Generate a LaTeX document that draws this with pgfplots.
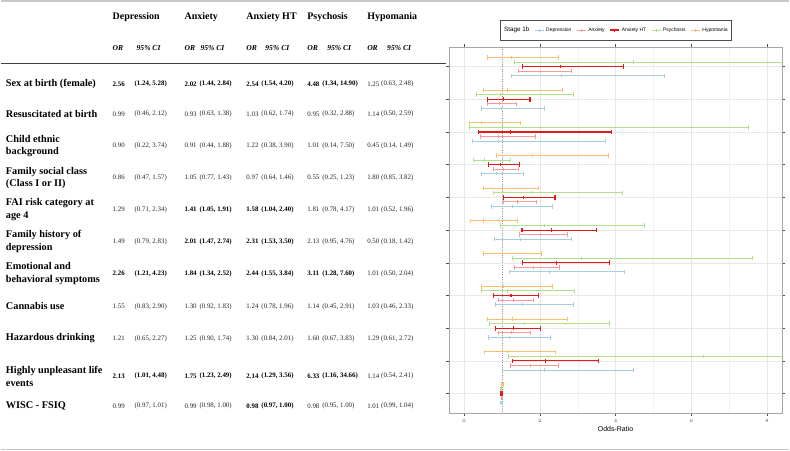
\documentclass[border=0pt]{standalone}
\usepackage{pgfplots}
\usepackage{pgfplotstable}
\pgfplotsset{compat=1.18}
\usepackage{fontspec}
\setmainfont{Liberation Serif}
\newfontfamily\sans{Liberation Sans}
\definecolor{cDep}{HTML}{A6CEE3}
\definecolor{cAnx}{HTML}{FB9A99}
\definecolor{cAHT}{HTML}{E31A1C}
\definecolor{cPsy}{HTML}{B2DF8A}
\definecolor{cHyp}{HTML}{FDBF6F}

\pgfplotstableread{
row or lo hi
1 2.56 1.24 5.28
2 0.99 0.46 2.12
3 0.90 0.22 3.74
4 0.86 0.47 1.57
5 1.29 0.71 2.34
6 1.49 0.79 2.83
7 2.26 1.21 4.23
8 1.55 0.83 2.90
9 1.21 0.65 2.27
10 2.13 1.01 4.48
11 0.99 0.97 1.01
}\depdata
\pgfplotstableread{
row or lo hi
1 2.02 1.44 2.84
2 0.93 0.63 1.38
3 0.91 0.44 1.88
4 1.05 0.77 1.43
5 1.41 1.05 1.91
6 2.01 1.47 2.74
7 1.84 1.34 2.52
8 1.30 0.92 1.83
9 1.25 0.90 1.74
10 1.75 1.23 2.49
11 0.99 0.98 1.00
}\anxdata
\pgfplotstableread{
row or lo hi
1 2.54 1.54 4.20
2 1.03 0.62 1.74
3 1.22 0.38 3.90
4 0.97 0.64 1.46
5 1.58 1.04 2.40
6 2.31 1.53 3.50
7 2.44 1.55 3.84
8 1.24 0.78 1.96
9 1.30 0.84 2.01
10 2.14 1.29 3.56
11 0.98 0.97 1.00
}\ahtdata
\pgfplotstableread{
row or lo hi
1 4.48 1.34 14.90
2 0.95 0.32 2.88
3 1.01 0.14 7.50
4 0.55 0.25 1.23
5 1.81 0.78 4.17
6 2.13 0.95 4.76
7 3.11 1.28 7.60
8 1.14 0.45 2.91
9 1.60 0.67 3.83
10 6.33 1.16 34.66
11 0.98 0.95 1.00
}\psydata
\pgfplotstableread{
row or lo hi
1 1.25 0.63 2.48
2 1.14 0.50 2.59
3 0.45 0.14 1.49
4 1.80 0.85 3.82
5 1.01 0.52 1.96
6 0.50 0.18 1.42
7 1.01 0.50 2.04
8 1.03 0.46 2.33
9 1.29 0.61 2.72
10 1.14 0.54 2.41
11 1.01 0.99 1.04
}\hypdata

\newcommand{\lab}[2]{\node[anchor=west,inner sep=0pt,align=left,font=\fontsize{10.3}{12.3}\selectfont\bfseries] at (5,#1) {#2};}
\newcommand{\nm}[3]{\node[anchor=west,inner sep=0pt,text=black!85,font=\fontsize{6.9}{7.5}\selectfont] at (#1,#2) {#3};}
\newcommand{\pr}[5]{\nm{#1}{#3}{#4}\nm{#2}{#3}{#5}}
\newcommand{\bpr}[5]{\nm{#1}{#3}{\bfseries\color{black} #4}\nm{#2}{#3}{\bfseries\color{black} #5}}
% column positions
\def\oA{112}\def\cA{134}
\def\oB{184}\def\cB{199}
\def\oC{246}\def\cC{261}
\def\oD{307}\def\cD{322}
\def\oE{367}\def\cE{381}

\begin{document}
\begin{tikzpicture}
\begin{scope}[x=1pt,y=-1pt]
\path (0,0) rectangle (790,451);
\draw[black!22, line width=1.5pt] (0,0.75) -- (790,0.75);
\draw[black!22, line width=1.5pt] (0,450.25) -- (790,450.25);
\draw[black!75, line width=0.8pt] (0,64) -- (446,64);
% headers
\foreach \x/\t in {\oA/Depression,\oB/Anxiety,\oC/Anxiety HT,\oD/Psychosis,\oE/Hypomania}
  \node[anchor=west,inner sep=0pt,font=\fontsize{10}{11}\selectfont\bfseries] at (\x,17) {\t};
\foreach \x/\c in {\oA/136,\oB/200,\oC/265,\oD/327,\oE/387}{
  \node[anchor=west,inner sep=0pt,font=\fontsize{7.6}{8.5}\selectfont\bfseries\itshape] at (\x,48) {OR};
  \node[anchor=west,inner sep=0pt,font=\fontsize{7.6}{8.5}\selectfont\bfseries\itshape] at (\c,48) {95\% CI};
}
% rows
\def\y{84}
\lab{\y}{Sex at birth (female)}
\bpr{\oA}{\cA}{\y}{2.56}{(1.24, 5.28)}
\bpr{\oB}{\cB}{\y}{2.02}{(1.44, 2.84)}
\bpr{\oC}{\cC}{\y}{2.54}{(1.54, 4.20)}
\bpr{\oD}{\cD}{\y}{4.48}{(1.34, 14.90)}
\pr{\oE}{\cE}{\y}{1.25}{(0.63, 2.48)}

\def\y{114}
\lab{\y}{Resuscitated at birth}
\pr{\oA}{\cA}{\y}{0.99}{(0.46, 2.12)}
\pr{\oB}{\cB}{\y}{0.93}{(0.63, 1.38)}
\pr{\oC}{\cC}{\y}{1.03}{(0.62, 1.74)}
\pr{\oD}{\cD}{\y}{0.95}{(0.32, 2.88)}
\pr{\oE}{\cE}{\y}{1.14}{(0.50, 2.59)}

\def\y{146}
\lab{\y}{Child ethnic\\background}
\pr{\oA}{\cA}{\y}{0.90}{(0.22, 3.74)}
\pr{\oB}{\cB}{\y}{0.91}{(0.44, 1.88)}
\pr{\oC}{\cC}{\y}{1.22}{(0.38, 3.90)}
\pr{\oD}{\cD}{\y}{1.01}{(0.14, 7.50)}
\pr{\oE}{\cE}{\y}{0.45}{(0.14, 1.49)}

\def\y{178}
\lab{\y}{Family social class\\(Class I or II)}
\pr{\oA}{\cA}{\y}{0.86}{(0.47, 1.57)}
\pr{\oB}{\cB}{\y}{1.05}{(0.77, 1.43)}
\pr{\oC}{\cC}{\y}{0.97}{(0.64, 1.46)}
\pr{\oD}{\cD}{\y}{0.55}{(0.25, 1.23)}
\pr{\oE}{\cE}{\y}{1.80}{(0.85, 3.82)}

\def\y{210}
\lab{\y}{FAI risk category at\\age 4}
\pr{\oA}{\cA}{\y}{1.29}{(0.71, 2.34)}
\bpr{\oB}{\cB}{\y}{1.41}{(1.05, 1.91)}
\bpr{\oC}{\cC}{\y}{1.58}{(1.04, 2.40)}
\pr{\oD}{\cD}{\y}{1.81}{(0.78, 4.17)}
\pr{\oE}{\cE}{\y}{1.01}{(0.52, 1.96)}

\def\y{242}
\lab{\y}{Family history of\\depression}
\pr{\oA}{\cA}{\y}{1.49}{(0.79, 2.83)}
\bpr{\oB}{\cB}{\y}{2.01}{(1.47, 2.74)}
\bpr{\oC}{\cC}{\y}{2.31}{(1.53, 3.50)}
\pr{\oD}{\cD}{\y}{2.13}{(0.95, 4.76)}
\pr{\oE}{\cE}{\y}{0.50}{(0.18, 1.42)}

\def\y{274}
\lab{\y}{Emotional and\\behavioral symptoms}
\bpr{\oA}{\cA}{\y}{2.26}{(1.21, 4.23)}
\bpr{\oB}{\cB}{\y}{1.84}{(1.34, 2.52)}
\bpr{\oC}{\cC}{\y}{2.44}{(1.55, 3.84)}
\bpr{\oD}{\cD}{\y}{3.11}{(1.28, 7.60)}
\pr{\oE}{\cE}{\y}{1.01}{(0.50, 2.04)}

\def\y{307}
\lab{\y}{Cannabis use}
\pr{\oA}{\cA}{\y}{1.55}{(0.83, 2.90)}
\pr{\oB}{\cB}{\y}{1.30}{(0.92, 1.83)}
\pr{\oC}{\cC}{\y}{1.24}{(0.78, 1.96)}
\pr{\oD}{\cD}{\y}{1.14}{(0.45, 2.91)}
\pr{\oE}{\cE}{\y}{1.03}{(0.46, 2.33)}

\def\y{339}
\lab{\y}{Hazardous drinking}
\pr{\oA}{\cA}{\y}{1.21}{(0.65, 2.27)}
\pr{\oB}{\cB}{\y}{1.25}{(0.90, 1.74)}
\pr{\oC}{\cC}{\y}{1.30}{(0.84, 2.01)}
\pr{\oD}{\cD}{\y}{1.60}{(0.67, 3.83)}
\pr{\oE}{\cE}{\y}{1.29}{(0.61, 2.72)}

\def\y{377}
\lab{\y}{Highly unpleasant life\\events}
\bpr{\oA}{\cA}{\y}{2.13}{(1.01, 4.48)}
\bpr{\oB}{\cB}{\y}{1.75}{(1.23, 2.49)}
\bpr{\oC}{\cC}{\y}{2.14}{(1.29, 3.56)}
\bpr{\oD}{\cD}{\y}{6.33}{(1.16, 34.66)}
\pr{\oE}{\cE}{\y}{1.14}{(0.54, 2.41)}

\def\y{407}
\lab{\y}{WISC - FSIQ}
\pr{\oA}{\cA}{\y}{0.99}{(0.97, 1.01)}
\pr{\oB}{\cB}{\y}{0.99}{(0.98, 1.00)}
\bpr{\oC}{\cC}{\y}{0.98}{(0.97, 1.00)}
\pr{\oD}{\cD}{\y}{0.98}{(0.95, 1.00)}
\pr{\oE}{\cE}{\y}{1.01}{(0.99, 1.04)}
\end{scope}

\begin{axis}[
  at={(449pt,-414pt)}, anchor=south west,
  width=334pt, height=367pt, scale only axis,
  xmin=-0.4, xmax=8.4, ymin=0.4, ymax=11.6, y dir=reverse,
  xtick={0,2,4,6,8}, minor xtick={1,3,5,7},
  ytick={1,2,3,4,5,6,7,8,9,10,11}, yticklabels={},
  grid=both,
  major grid style={color=black!9, line width=0.4pt},
  minor grid style={color=black!5, line width=0.3pt},
  axis line style={black!35, line width=0.6pt},
  tick align=outside, major tick length=2.5pt, minor tick length=0pt,
  tick style={black!70, line width=0.5pt},
  xticklabel style={font=\sans\fontsize{5.5}{6}\selectfont, text=black!70},
  xlabel={Odds-Ratio},
  xlabel style={font=\sans\fontsize{7}{8}\selectfont, yshift=3pt},
  clip=true,
  legend columns=6,
  legend style={at={(0.501,1.046)}, anchor=center, draw=black!70, line width=0.5pt,
    font=\sans\fontsize{5}{6}\selectfont, inner xsep=2pt, inner ysep=5pt,
    /tikz/every even column/.append style={column sep=3pt}},
]
\addlegendimage{empty legend}
\addlegendentry{\fontsize{6.3}{7}\selectfont Stage 1b}

\addplot[black!40, dotted, line width=0.45pt, forget plot] coordinates {(1,0.4) (1,11.6)};

\addplot[draw=cDep, color=cDep, line width=0.9pt, only marks, mark=|, mark size=1.6pt,
  legend image code/.code={\draw[cDep, line width=0.9pt] (0pt,0pt) -- (9pt,0pt) (4.5pt,-1.5pt) -- (4.5pt,1.5pt);},
  error bars/.cd, x dir=both, x explicit, error mark=|,
  error bar style={line width=0.9pt, draw=cDep},
  error mark options={draw=cDep, mark size=2.2pt, line width=0.9pt}]
  table[x=or, y expr=\thisrow{row}+0.28, x error plus expr=\thisrow{hi}-\thisrow{or}, x error minus expr=\thisrow{or}-\thisrow{lo}] {\depdata};
\addlegendentry{Depression}

\addplot[draw=cAnx, color=cAnx, line width=0.9pt, only marks, mark=|, mark size=1.6pt,
  legend image code/.code={\draw[cAnx, line width=0.9pt] (0pt,0pt) -- (9pt,0pt) (4.5pt,-1.5pt) -- (4.5pt,1.5pt);},
  error bars/.cd, x dir=both, x explicit, error mark=|,
  error bar style={line width=0.9pt, draw=cAnx},
  error mark options={draw=cAnx, mark size=2.2pt, line width=0.9pt}]
  table[x=or, y expr=\thisrow{row}+0.14, x error plus expr=\thisrow{hi}-\thisrow{or}, x error minus expr=\thisrow{or}-\thisrow{lo}] {\anxdata};
\addlegendentry{Anxiety}

\addplot[draw=cAHT, color=cAHT, line width=1.15pt, only marks, mark=|, mark size=1.8pt,
  legend image code/.code={\draw[cAHT, line width=1.15pt] (0pt,0pt) -- (9pt,0pt) (4.5pt,-1.5pt) -- (4.5pt,1.5pt);},
  error bars/.cd, x dir=both, x explicit, error mark=|,
  error bar style={line width=1.15pt, draw=cAHT},
  error mark options={draw=cAHT, mark size=2.4pt, line width=1.15pt}]
  table[x=or, y expr=\thisrow{row}, x error plus expr=\thisrow{hi}-\thisrow{or}, x error minus expr=\thisrow{or}-\thisrow{lo}] {\ahtdata};
\addlegendentry{Anxiety HT}

\addplot[draw=cPsy, color=cPsy, line width=0.9pt, only marks, mark=|, mark size=1.6pt,
  legend image code/.code={\draw[cPsy, line width=0.9pt] (0pt,0pt) -- (9pt,0pt) (4.5pt,-1.5pt) -- (4.5pt,1.5pt);},
  error bars/.cd, x dir=both, x explicit, error mark=|,
  error bar style={line width=0.9pt, draw=cPsy},
  error mark options={draw=cPsy, mark size=2.2pt, line width=0.9pt}]
  table[x=or, y expr=\thisrow{row}-0.14, x error plus expr=\thisrow{hi}-\thisrow{or}, x error minus expr=\thisrow{or}-\thisrow{lo}] {\psydata};
\addlegendentry{Psychosis}

\addplot[draw=cHyp, color=cHyp, line width=0.9pt, only marks, mark=|, mark size=1.6pt,
  legend image code/.code={\draw[cHyp, line width=0.9pt] (0pt,0pt) -- (9pt,0pt) (4.5pt,-1.5pt) -- (4.5pt,1.5pt);},
  error bars/.cd, x dir=both, x explicit, error mark=|,
  error bar style={line width=0.9pt, draw=cHyp},
  error mark options={draw=cHyp, mark size=2.2pt, line width=0.9pt}]
  table[x=or, y expr=\thisrow{row}-0.28, x error plus expr=\thisrow{hi}-\thisrow{or}, x error minus expr=\thisrow{or}-\thisrow{lo}] {\hypdata};
\addlegendentry{Hypomania}
\end{axis}
\end{tikzpicture}
\end{document}
